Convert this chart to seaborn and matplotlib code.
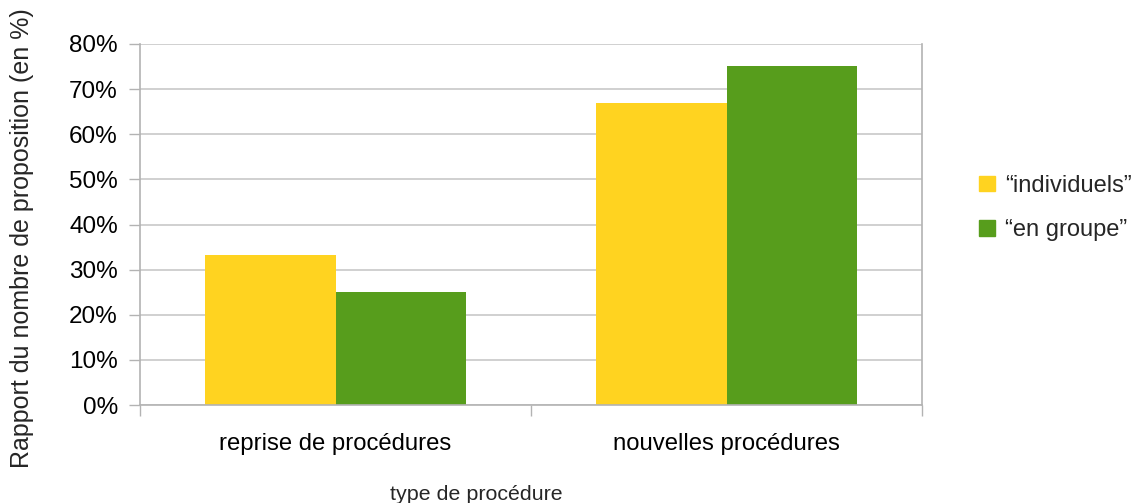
import pandas as pd
import matplotlib
matplotlib.use("Agg")
import matplotlib.pyplot as plt
import matplotlib.ticker as mticker
import seaborn as sns

# données
categories = ['reprise de procédures', 'nouvelles procédures']
individuels = [33.2, 67.0]
en_groupe = [25.1, 75.1]
series = ['\u201cindividuels\u201d', '\u201cen groupe\u201d']
couleurs = ['#FFD320', '#579D1C']

sns.set_style("white")
plt.rcParams['font.family'] = ['Liberation Sans', 'DejaVu Sans']

df = pd.DataFrame({
    'type de procédure': categories * 2,
    'valeur': individuels + en_groupe,
    'serie': [series[0]] * 2 + [series[1]] * 2,
})

fig = plt.figure(figsize=(11.38, 5.03), dpi=100)
ax = fig.add_axes([140 / 1138, 1 - 405 / 503, 782 / 1138, 361 / 503])

sns.barplot(data=df, x='type de procédure', y='valeur', hue='serie',
            palette=couleurs, width=0.67, saturation=1, ax=ax,
            edgecolor='none', linewidth=0, legend=False)

gris = '#b3b3b3'
ax.set_ylim(0, 80)
ax.set_xlim(-0.5, 1.5)
ax.yaxis.set_major_locator(mticker.MultipleLocator(10))
ax.yaxis.set_major_formatter(mticker.FuncFormatter(lambda v, p: f'{v:.0f}%'))
ax.grid(axis='y', color='#c8c8c8', linewidth=1.2)
ax.set_axisbelow(True)

for cote in ['left', 'right', 'bottom']:
    ax.spines[cote].set_color(gris)
    ax.spines[cote].set_linewidth(1.2)
ax.spines['top'].set_visible(False)

ax.tick_params(axis='y', which='major', length=8, width=1, color=gris,
               pad=8, labelsize=17.5, labelcolor='black', left=True)
ax.tick_params(axis='x', which='major', length=0, pad=20, labelsize=17.2,
               labelcolor='black')
ax.set_xticks([-0.5, 0.5, 1.5], minor=True)
ax.tick_params(axis='x', which='minor', length=8, width=1, color=gris,
               bottom=True)

ax.set_xlabel('')
ax.set_ylabel('')
fig.text(476 / 1138, 1 - 494 / 503, 'type de procédure', ha='center',
         va='center', fontsize=15.4)
fig.text(22 / 1138, 1 - 238 / 503, 'Rapport du nombre de proposition (en %)',
         ha='center', va='center', rotation=90, fontsize=18)

handles = [plt.Rectangle((0, 0), 1, 1, color=c) for c in couleurs]
fig.legend(handles, series, loc='center left',
           bbox_to_anchor=(958 / 1138, 1 - 208 / 503), frameon=False,
           fontsize=17, handlelength=0.65, handleheight=0.65,
           handletextpad=0.45, labelspacing=0.95)

fig.savefig('out.png', dpi=100)
